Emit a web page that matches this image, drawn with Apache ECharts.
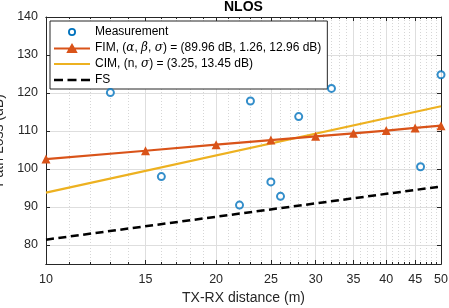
<!DOCTYPE html>
<html><head><meta charset="utf-8">
<script src="https://cdn.jsdelivr.net/npm/echarts@6/dist/echarts.min.js"></script>
<style>html,body{margin:0;padding:0;background:#fff}#c{width:449px;height:308px}</style>
</head><body><div id="c"></div>
<script>
const titleText = 'NLOS';
const xName = 'TX-RX distance (m)';
const yName = 'Path Loss (dB)';
const xTicks = [10, 15, 20, 25, 30, 35, 40, 45, 50];
const xMinorTicks = [10, 11, 12, 13, 14, 15, 16, 17, 18, 19, 20, 21, 22, 23, 24, 25, 26, 27, 28, 29, 30,
  31, 32, 33, 34, 35, 36, 37, 38, 39, 40, 41, 42, 43, 44, 45, 46, 47, 48, 49, 50];
const yTicks = [80, 90, 100, 110, 120, 130, 140];
const measDist = [13, 16, 22, 23, 25, 26, 28, 32, 46, 50];
const measPL = [120.1, 98.0, 90.5, 117.9, 96.6, 92.8, 113.8, 121.2, 100.6, 124.8];
const fimDist = [10, 15, 20, 25, 30, 35, 40, 45, 50];
const fimPL = [102.6, 104.8, 106.4, 107.6, 108.6, 109.4, 110.1, 110.8, 111.4];
const cimDist = [10, 50];
const cimPL = [93.8, 116.5];
const fsDist = [10, 50];
const fsPL = [81.4, 95.4];
const names = ['Measurement', 'FIM', 'CIM', 'FS'];
const colors = { Measurement: '#0072BD', FIM: '#D95319', CIM: '#EDB120', FS: '#000000' };

const zip = (a, b) => a.map((v, i) => [v, b[i]]);
const FONT = 'Liberation Sans, Arial, Helvetica, sans-serif';
const AX = '#262626';

// legend glyphs (36 x 10 box; the leading M0,0M36,10 fixes the box)
const BOX = 'M0,0M36,10';
const legendIcons = {
  Measurement: 'path://' + BOX + 'M22,5A4,4 0 1 0 14,5A4,4 0 1 0 22,5ZM20.2,5A2.2,2.2 0 1 1 15.8,5A2.2,2.2 0 1 1 20.2,5Z',
  FIM: 'path://' + BOX + 'M0,4.4H15.4L18,0L20.6,4.4H36V6.6H21.8L23.7,10H12.3L14.2,6.6H0Z',
  CIM: 'path://' + BOX + 'M0,3.9H36V6.1H0Z',
  FS: 'path://' + BOX + 'M0,3.8H9V6.2H0ZM13.5,3.8H22.5V6.2H13.5ZM27,3.8H36V6.2H27Z'
};

function xAxisCfg(pos, ticks, major, labels, split) {
  return {
    type: 'log', logBase: 10, min: 10, max: 50, position: pos,
    axisLine: { show: true, lineStyle: { color: AX, width: 1 } },
    axisTick: { show: true, inside: true, length: major ? 4 : 2, customValues: ticks, lineStyle: { color: AX } },
    axisLabel: labels ? { show: true, customValues: ticks, margin: 9, color: AX, fontSize: 12.5, fontFamily: FONT, formatter: v => String(Math.round(v)) } : { show: false },
    minorTick: { show: false },
    splitLine: split ? (major ? { show: true, lineStyle: { color: '#dedede', width: 1 } }
                                : { show: true, lineStyle: { color: '#d6d6d6', width: 1, type: [1, 2] } }) : { show: false },
    name: labels ? xName : '', nameLocation: 'middle', nameGap: 27,
    nameTextStyle: { color: AX, fontSize: 14, fontFamily: FONT }
  };
}
function yAxisCfg(pos, labels) {
  return {
    type: 'value', min: 75, max: 140, position: pos,
    axisLine: { show: true, lineStyle: { color: AX, width: 1 } },
    axisTick: { show: true, inside: true, length: 4, customValues: yTicks, lineStyle: { color: AX } },
    axisLabel: labels ? { show: true, customValues: yTicks, margin: 8, color: AX, fontSize: 12.5, fontFamily: FONT } : { show: false },
    splitLine: labels ? { show: true, lineStyle: { color: '#dedede', width: 1 } } : { show: false },
    name: labels ? yName : '', nameLocation: 'middle', nameGap: 29,
    nameTextStyle: { color: AX, fontSize: 14, fontFamily: FONT }
  };
}

const chart = echarts.init(document.getElementById('c'), null, { renderer: 'canvas' });
chart.setOption({
  animation: false,
  backgroundColor: '#fff',
  title: { text: titleText, left: 224, top: 0, padding: 0,
    textStyle: { fontSize: 14, fontWeight: 'bold', color: '#000', fontFamily: FONT } },
  grid: { left: 46, right: 8, top: 17, bottom: 44, containLabel: false, outerBoundsMode: 'none' },
  xAxis: [
    xAxisCfg('bottom', xMinorTicks, false, false, true),
    xAxisCfg('bottom', xTicks, true, true, true),
    xAxisCfg('top', xMinorTicks, false, false, false),
    xAxisCfg('top', xTicks, true, false, false)
  ],
  yAxis: [yAxisCfg('left', true), yAxisCfg('right', false)],
  legend: {
    orient: 'vertical', left: 50, top: 21, padding: [5, 6, 3, 4],
    itemWidth: 36, itemHeight: 10, itemGap: 4, symbolKeepAspect: true,
    backgroundColor: '#fff', borderColor: AX, borderWidth: 1, borderRadius: 0,
    textStyle: { fontSize: 12, color: '#000', fontFamily: FONT,
      rich: { g: { fontSize: 12, fontStyle: 'italic', fontFamily: 'DejaVu Serif, serif', color: '#000' } } },
    data: names.map(n => ({ name: n, icon: legendIcons[n],
      itemStyle: { color: colors[n], borderWidth: 0, borderColor: 'transparent', opacity: 1 } })),
    formatter: function (n) {
      if (n === 'FIM') return 'FIM, ({g|α}, {g|β}, {g|σ}) = (89.96 dB, 1.26, 12.96 dB)';
      if (n === 'CIM') return 'CIM, (n, {g|σ}) = (3.25, 13.45 dB)';
      return n;
    }
  },
  series: [
    { name: 'Measurement', type: 'scatter', xAxisIndex: 1, data: zip(measDist, measPL),
      symbol: 'emptyCircle', symbolSize: 7, itemStyle: { color: colors.Measurement, borderWidth: 2 }, z: 5 },
    { name: 'FIM', type: 'line', xAxisIndex: 1, data: zip(fimDist, fimPL),
      symbol: 'triangle', symbolSize: 9, showSymbol: true,
      itemStyle: { color: colors.FIM }, lineStyle: { color: colors.FIM, width: 2.2 }, z: 4 },
    { name: 'CIM', type: 'line', xAxisIndex: 1, data: zip(cimDist, cimPL), symbol: 'none',
      itemStyle: { color: colors.CIM }, lineStyle: { color: colors.CIM, width: 2.2 }, z: 3 },
    { name: 'FS', type: 'line', xAxisIndex: 1, data: zip(fsDist, fsPL), symbol: 'none',
      itemStyle: { color: colors.FS }, lineStyle: { color: colors.FS, width: 2.5, type: [8, 4.5] }, z: 3 }
  ]
});
</script></body></html>
